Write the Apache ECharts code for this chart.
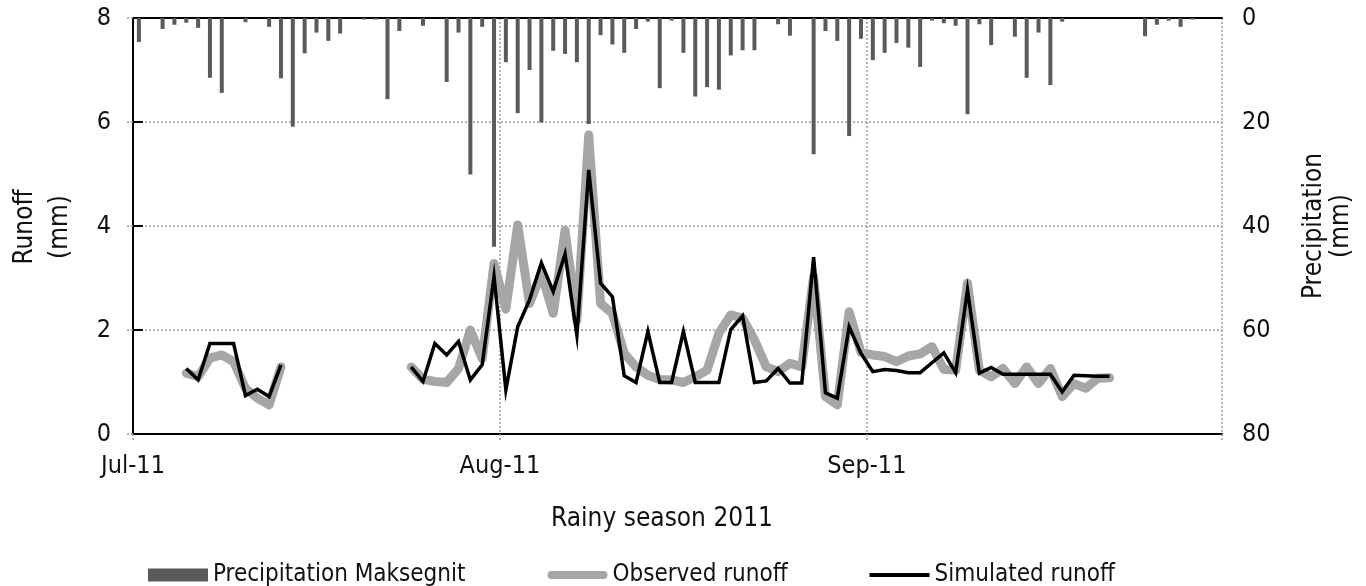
<!DOCTYPE html>
<html>
<head>
<meta charset="utf-8">
<script src="https://cdn.jsdelivr.net/npm/echarts@6/dist/echarts.min.js"></script>
<style>
  html, body { margin: 0; padding: 0; background: #fff; }
  #chart { width: 1366px; height: 586px; }
</style>
</head>
<body>
<div id="chart"></div>
<script>
// Daily series, 1 Jul 2011 (index 0) to 30 Sep 2011 (index 91)
const dayCount = 92;
const monthStarts = [0, 31, 62];
const monthLabels = ['Jul-11', 'Aug-11', 'Sep-11'];

// Daily precipitation at Maksegnit (mm)
const precipitation = [
  4.6, 0, 2.1, 1.3, 0.9, 1.9, 11.5, 14.4, 0, 0.8,
  0, 1.7, 11.6, 20.9, 6.8, 2.8, 4.4, 3.0, 0, 0.3,
  0.3, 15.6, 2.5, 0, 1.5, 0, 12.3, 2.8, 30.1, 1.7,
  44.0, 8.5, 18.3, 10.0, 20.1, 6.3, 6.9, 8.5, 20.4, 3.3,
  5.1, 6.7, 2.1, 0.7, 13.5, 0.5, 6.7, 15.1, 13.3, 13.8,
  7.2, 6.2, 6.2, 0, 1.2, 3.4, 0, 26.2, 2.5, 4.4,
  22.7, 4.0, 8.1, 6.7, 4.8, 5.7, 9.4, 0.5, 1.0, 1.5,
  18.5, 1.2, 5.2, 0, 3.6, 11.5, 2.8, 12.9, 0.7, 0,
  0, 0, 0, 0, 0, 3.5, 1.3, 0.5, 1.7, 0.3,
  0, 0
];

// Observed daily runoff (mm); null = no record
const observedRunoff = [
  null, null, null, null, 1.17, 1.10, 1.46, 1.52, 1.39, 0.88,
  0.69, 0.56, 1.29, null, null, null, null, null, null, null,
  null, null, null, 1.29, 1.05, 1.01, 0.99, 1.26, 2.00, 1.45,
  3.28, 2.40, 4.02, 2.51, 3.09, 2.32, 3.92, 2.19, 5.75, 2.51,
  2.32, 1.55, 1.29, 1.13, 1.05, 1.04, 0.99, 1.10, 1.23, 1.94,
  2.29, 2.23, 1.81, 1.29, 1.20, 1.36, 1.29, 3.03, 0.72, 0.56,
  2.35, 1.57, 1.52, 1.49, 1.39, 1.50, 1.54, 1.68, 1.24, 1.23,
  2.90, 1.23, 1.10, 1.26, 0.97, 1.29, 0.97, 1.26, 0.72, 0.97,
  0.88, 1.07, 1.08, null, null, null, null, null, null, null,
  null, null
];

// Simulated daily runoff (mm)
const simulatedRunoff = [
  null, null, null, null, 1.26, 1.04, 1.74, 1.74, 1.74, 0.74,
  0.86, 0.72, 1.33, null, null, null, null, null, null, null,
  null, null, null, 1.29, 1.01, 1.74, 1.52, 1.78, 1.04, 1.33,
  3.03, 0.85, 2.06, 2.58, 3.29, 2.74, 3.46, 1.90, 5.08, 2.90,
  2.64, 1.12, 0.99, 1.97, 0.99, 0.99, 1.97, 0.99, 0.99, 0.99,
  2.01, 2.27, 0.99, 1.02, 1.26, 0.98, 0.98, 3.40, 0.79, 0.69,
  2.06, 1.55, 1.20, 1.24, 1.22, 1.18, 1.18, 1.37, 1.56, 1.18,
  2.77, 1.17, 1.28, 1.15, 1.15, 1.15, 1.15, 1.15, 0.81, 1.13,
  1.12, 1.11, 1.11, null, null, null, null, null, null, null,
  null, null
];

const FONT = "'DejaVu Sans Condensed', 'DejaVu Sans', sans-serif";
const TEXT = '#111';
const GRID = '#9a9a9a';
const OBS = '#a6a6a6';
const PRECIP = '#5a5a5a';

// each day is plotted at the middle of its slot on the day axis
const toPoints = arr => arr.map((v, i) => [i + 0.5, v == null ? '-' : v]);

const chart = echarts.init(document.getElementById('chart'), null, { renderer: 'canvas' });

chart.setOption({
  animation: false,
  backgroundColor: '#fff',
  textStyle: { fontFamily: FONT },
  grid: { left: 133, right: 144, top: 18, bottom: 152, containLabel: false },
  xAxis: [
    {
      type: 'value', min: 0, max: dayCount, interval: 31,
      axisLine: { show: true, lineStyle: { color: '#000', width: 2 } },
      axisTick: { show: true, length: 8, lineStyle: { color: GRID, type: [2, 2], width: 1.5 } },
      axisLabel: {
        margin: 20, fontSize: 25, color: TEXT, fontFamily: FONT,
        formatter: v => { const k = monthStarts.indexOf(v); return k < 0 ? '' : monthLabels[k]; }
      },
      splitLine: { show: true, lineStyle: { color: GRID, type: [2, 2], width: 1.5 } }
    },
    {
      type: 'value', position: 'top', min: 0, max: dayCount,
      axisLine: { show: true, lineStyle: { color: '#000', width: 2 } },
      axisTick: { show: false }, axisLabel: { show: false }, splitLine: { show: false }
    }
  ],
  yAxis: [
    {
      type: 'value', min: 0, max: 8, interval: 2, position: 'left',
      axisLine: { show: true, lineStyle: { color: '#000', width: 2 } },
      axisTick: { show: true, length: 8, lineStyle: { color: GRID, type: [2, 2], width: 1.5 } },
      axisLabel: { margin: 22, fontSize: 25, color: TEXT, fontFamily: FONT },
      splitLine: { show: true, lineStyle: { color: GRID, type: [2, 2], width: 1.5 } }
    },
    {
      type: 'value', min: 0, max: 80, interval: 20, position: 'right', inverse: true,
      axisLine: { show: true, lineStyle: { color: '#000', width: 2 } },
      axisTick: { show: true, length: 10, lineStyle: { color: '#000', width: 2 } },
      axisLabel: { margin: 20, fontSize: 25, color: TEXT, fontFamily: FONT },
      splitLine: { show: false }
    }
  ],
  legend: {
    left: 143, top: 558,
    itemWidth: 60, itemHeight: 13, itemGap: 82,
    textStyle: { fontSize: 24, color: TEXT, fontFamily: FONT },
    data: [
      { name: 'Precipitation Maksegnit', icon: 'rect' },
      { name: 'Observed runoff', icon: 'path://M4,0 H56 A4,4 0 0 1 56,8 H4 A4,4 0 0 1 4,0 Z' },
      { name: 'Simulated runoff', icon: 'path://M0,0 H60 V4 H0 Z' }
    ]
  },
  graphic: [
    {
      type: 'text', x: 43, y: 227, rotation: Math.PI / 2,
      style: { text: 'Runoff\n(mm)', fontSize: 26, fontFamily: FONT, fill: TEXT,
               align: 'center', verticalAlign: 'middle', lineHeight: 35 }
    },
    {
      type: 'text', x: 1328, y: 226, rotation: Math.PI / 2,
      style: { text: 'Precipitation\n(mm)', fontSize: 26, fontFamily: FONT, fill: TEXT,
               align: 'center', verticalAlign: 'middle', lineHeight: 27 }
    },
    {
      type: 'text', x: 662, y: 519,
      style: { text: 'Rainy season 2011', fontSize: 26, fontFamily: FONT, fill: TEXT,
               align: 'center', verticalAlign: 'middle' }
    }
  ],
  series: [
    {
      name: 'Precipitation Maksegnit', type: 'bar',
      xAxisIndex: 0, yAxisIndex: 1,
      data: toPoints(precipitation),
      barWidth: 4,
      itemStyle: { color: PRECIP },
      z: 2
    },
    {
      name: 'Observed runoff', type: 'line',
      xAxisIndex: 0, yAxisIndex: 0,
      data: toPoints(observedRunoff),
      symbol: 'none', connectNulls: false,
      lineStyle: { color: OBS, width: 9, cap: 'round', join: 'round' },
      itemStyle: { color: OBS },
      z: 3
    },
    {
      name: 'Simulated runoff', type: 'line',
      xAxisIndex: 0, yAxisIndex: 0,
      data: toPoints(simulatedRunoff),
      symbol: 'none', connectNulls: false,
      lineStyle: { color: '#000', width: 3.5, join: 'miter' },
      itemStyle: { color: '#000' },
      z: 4
    }
  ]
});
</script>
</body>
</html>
